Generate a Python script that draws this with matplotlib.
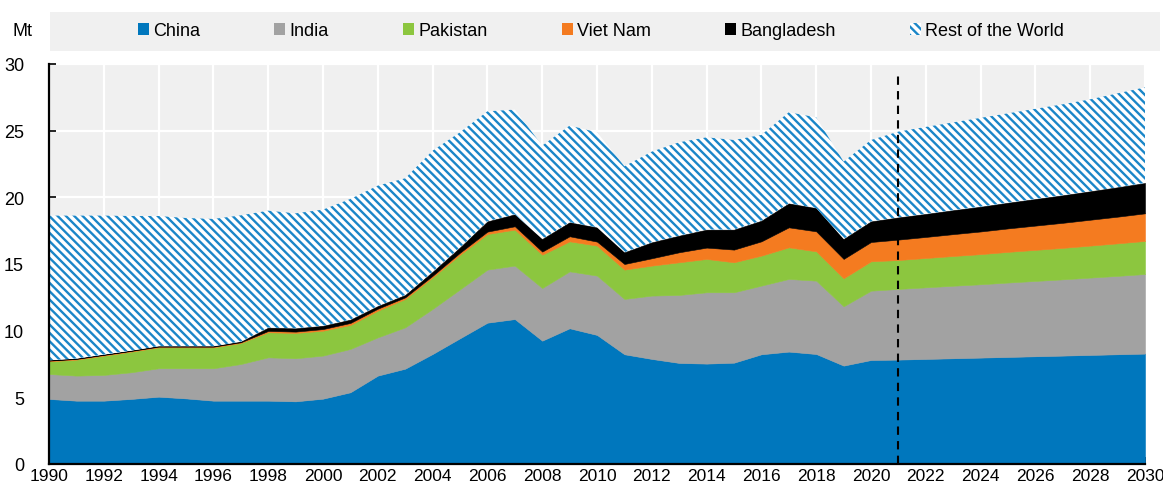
import matplotlib
matplotlib.use('Agg')
import matplotlib.pyplot as plt
from matplotlib.patches import Patch, Rectangle
import numpy as np

# ── Data (Mt) ────────────────────────────────────────────────────────────────
years = list(range(1990, 2031))

china = [4.88, 4.75, 4.75, 4.88, 5.05, 4.92, 4.75, 4.75, 4.75, 4.70,
         4.90, 5.38, 6.63, 7.15, 8.25, 9.43, 10.60, 10.87, 9.25, 10.18,
         9.68, 8.23, 7.88, 7.58, 7.53, 7.60, 8.23, 8.43, 8.25, 7.38,
         7.80, 7.83, 7.88, 7.93, 7.98, 8.03, 8.08, 8.13, 8.18, 8.23, 8.28]
india = [1.87, 1.88, 1.93, 2.00, 2.13, 2.26, 2.43, 2.75, 3.25, 3.23,
         3.23, 3.25, 2.87, 3.10, 3.38, 3.67, 3.98, 4.01, 3.95, 4.27,
         4.45, 4.15, 4.75, 5.10, 5.35, 5.28, 5.15, 5.45, 5.50, 4.45,
         5.20, 5.30, 5.37, 5.44, 5.50, 5.58, 5.65, 5.72, 5.80, 5.88, 5.97]
pakistan = [0.95, 1.20, 1.45, 1.55, 1.57, 1.57, 1.57, 1.58, 1.88, 1.90,
            1.87, 1.80, 2.00, 2.13, 2.37, 2.60, 2.67, 2.70, 2.50, 2.25,
            2.25, 2.20, 2.25, 2.45, 2.50, 2.25, 2.25, 2.37, 2.20, 2.10,
            2.20, 2.17, 2.20, 2.23, 2.26, 2.30, 2.33, 2.36, 2.40, 2.44, 2.48]
vietnam = [0.05, 0.05, 0.05, 0.05, 0.05, 0.05, 0.05, 0.05, 0.10, 0.10,
           0.12, 0.15, 0.15, 0.12, 0.12, 0.15, 0.18, 0.25, 0.23, 0.38,
           0.30, 0.42, 0.55, 0.75, 0.85, 0.95, 1.07, 1.50, 1.50, 1.45,
           1.45, 1.53, 1.58, 1.64, 1.70, 1.76, 1.82, 1.88, 1.94, 2.00, 2.07]
bangladesh = [0.03, 0.03, 0.03, 0.03, 0.04, 0.04, 0.04, 0.05, 0.25, 0.25,
              0.25, 0.25, 0.20, 0.18, 0.30, 0.40, 0.77, 0.90, 0.95, 1.05,
              1.07, 0.88, 1.20, 1.25, 1.35, 1.50, 1.55, 1.80, 1.75, 1.50,
              1.55, 1.67, 1.73, 1.80, 1.86, 1.93, 2.00, 2.07, 2.14, 2.21, 2.28]
rest_world = [10.85, 10.72, 10.42, 10.09, 9.76, 9.61, 9.54, 9.47, 8.77, 8.62,
              8.71, 9.05, 9.03, 8.75, 9.08, 8.63, 8.25, 7.85, 7.00, 7.25,
              7.13, 6.45, 6.80, 7.00, 6.92, 6.72, 6.43, 6.83, 6.80, 5.80,
              6.10, 6.43, 6.52, 6.58, 6.66, 6.70, 6.76, 6.82, 6.89, 7.04, 7.17]

labels = ['China', 'India', 'Pakistan', 'Viet Nam', 'Bangladesh', 'Rest of the World']
colors = ['#0077bd', '#a2a2a2', '#8cc63f', '#f47b20', '#000000', '#ffffff']
HATCH_BLUE = '#1a86c8'
HATCH = '\\\\\\\\'
PROJ_YEAR = 2021

# ── Style ────────────────────────────────────────────────────────────────────
plt.rcParams['font.family'] = ['Liberation Sans', 'DejaVu Sans']
plt.rcParams['hatch.linewidth'] = 1.7
BG = '#f0f0f0'

W, H = 1163, 489
fig = plt.figure(figsize=(W / 100, H / 100), dpi=100)
ax = fig.add_axes([49 / W, 1 - 465 / H, (1145 - 49) / W, (465 - 65) / H])
ax.set_facecolor(BG)

polys = ax.stackplot(years, china, india, pakistan, vietnam, bangladesh, rest_world,
                     colors=colors, linewidth=0.4, zorder=2)
for p, c in zip(polys[:-1], colors[:-1]):
    p.set_edgecolor(c)
rw = polys[-1]
rw.set_facecolor('white')
rw.set_edgecolor(HATCH_BLUE)
rw.set_linewidth(0)
rw.set_hatch(HATCH)

# projection marker
ax.vlines(PROJ_YEAR, 0, 29.1, colors='black', linestyles=(0, (4, 3)), linewidth=1.5, zorder=4)

ax.set_xlim(1990, 2030)
ax.set_ylim(0, 30)
ax.set_xticks(range(1990, 2031, 2))
ax.set_yticks(range(0, 31, 5))
ax.grid(True, color='white', linewidth=1.6, zorder=0)
ax.set_axisbelow(True)
ax.tick_params(axis='x', direction='in', length=5, width=1.2, pad=3, labelsize=12.5)
ax.tick_params(axis='y', direction='in', length=5, width=1.2, pad=18, labelsize=13)
for s in ['top', 'right']:
    ax.spines[s].set_visible(False)
for s in ['left', 'bottom']:
    ax.spines[s].set_linewidth(1.6)
    ax.spines[s].set_zorder(5)

# legend band
fig.patches.append(Rectangle((50 / W, 1 - 52 / H), 1110 / W, 39 / H,
                             transform=fig.transFigure, facecolor=BG,
                             edgecolor='none', zorder=0))
handles = [Patch(facecolor=c, edgecolor='none') for c in colors[:-1]]
handles.append(Patch(facecolor='white', edgecolor=HATCH_BLUE, hatch=HATCH, linewidth=0))
fig.legend(handles, labels, loc='center', bbox_to_anchor=(601 / W, 1 - 32 / H),
           ncol=6, frameon=False, fontsize=13, handlelength=0.6, handleheight=0.6,
           handletextpad=0.25, columnspacing=4.1, borderpad=0, borderaxespad=0)
fig.text(13 / W, 1 - 32 / H, 'Mt', ha='left', va='center', fontsize=13)

plt.savefig('out.png', dpi=100)
